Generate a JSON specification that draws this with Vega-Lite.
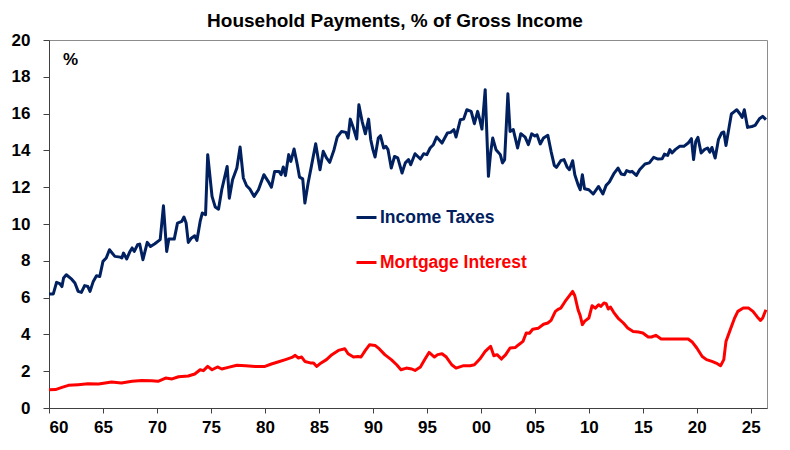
{
  "$schema": "https://vega.github.io/schema/vega-lite/v6.json",
  "description": "Household payments as a share of gross income: income taxes and mortgage interest.",
  "width": 718,
  "height": 368,
  "autosize": "none",
  "padding": {"left": 49, "top": 40, "right": 23, "bottom": 42},
  "background": "white",
  "title": {
    "text": "Household Payments, % of Gross Income",
    "font": "Liberation Sans",
    "fontSize": 19,
    "fontWeight": "bold",
    "color": "#000000",
    "anchor": "middle",
    "frame": "group",
    "dx": -13,
    "dy": 28,
    "offset": 9,
    "baseline": "bottom"
  },
  "config": {
    "view": {"stroke": "#8c8c8c", "strokeWidth": 1},
    "axis": {
      "grid": false,
      "labelFont": "Liberation Sans",
      "labelFontSize": 17,
      "labelFontWeight": "bold",
      "labelColor": "#000000",
      "domainColor": "#404040",
      "tickColor": "#404040",
      "titleFont": "Liberation Sans",
      "titleFontWeight": "bold",
      "titleColor": "#000000"
    }
  },
  "datasets": {
    "tax": [
      {"year": 1960.0, "pct": 6.2}, {"year": 1960.4, "pct": 6.2}, {"year": 1960.7, "pct": 6.83},
      {"year": 1961.0, "pct": 6.76}, {"year": 1961.2, "pct": 6.6}, {"year": 1961.35, "pct": 7.07},
      {"year": 1961.6, "pct": 7.24}, {"year": 1962.1, "pct": 7.0}, {"year": 1962.4, "pct": 6.79},
      {"year": 1962.7, "pct": 6.34}, {"year": 1963.0, "pct": 6.28}, {"year": 1963.3, "pct": 6.65},
      {"year": 1963.6, "pct": 6.6}, {"year": 1963.8, "pct": 6.34}, {"year": 1964.1, "pct": 6.88},
      {"year": 1964.4, "pct": 7.19}, {"year": 1964.7, "pct": 7.15}, {"year": 1965.0, "pct": 7.97},
      {"year": 1965.3, "pct": 8.15}, {"year": 1965.6, "pct": 8.6}, {"year": 1966.1, "pct": 8.24},
      {"year": 1966.6, "pct": 8.2}, {"year": 1966.75, "pct": 8.15}, {"year": 1966.9, "pct": 8.42},
      {"year": 1967.2, "pct": 8.1}, {"year": 1967.5, "pct": 8.51}, {"year": 1967.7, "pct": 8.7},
      {"year": 1967.9, "pct": 8.51}, {"year": 1968.2, "pct": 8.87}, {"year": 1968.4, "pct": 8.91},
      {"year": 1968.7, "pct": 8.06}, {"year": 1969.1, "pct": 9.0}, {"year": 1969.4, "pct": 8.78},
      {"year": 1969.8, "pct": 8.93}, {"year": 1970.3, "pct": 9.15}, {"year": 1970.6, "pct": 10.99},
      {"year": 1970.9, "pct": 8.51}, {"year": 1971.1, "pct": 9.18}, {"year": 1971.6, "pct": 9.18},
      {"year": 1971.9, "pct": 10.05}, {"year": 1972.3, "pct": 10.14}, {"year": 1972.5, "pct": 10.38},
      {"year": 1972.7, "pct": 10.05}, {"year": 1972.9, "pct": 9.0}, {"year": 1973.2, "pct": 9.24},
      {"year": 1973.5, "pct": 9.36}, {"year": 1973.7, "pct": 9.11}, {"year": 1974.0, "pct": 10.14},
      {"year": 1974.2, "pct": 10.6}, {"year": 1974.5, "pct": 10.5}, {"year": 1974.7, "pct": 13.77},
      {"year": 1975.1, "pct": 11.5}, {"year": 1975.4, "pct": 10.92}, {"year": 1975.7, "pct": 10.8},
      {"year": 1976.0, "pct": 11.86}, {"year": 1976.5, "pct": 13.13}, {"year": 1976.7, "pct": 11.4},
      {"year": 1977.0, "pct": 12.4}, {"year": 1977.4, "pct": 13.04}, {"year": 1977.7, "pct": 14.18},
      {"year": 1978.0, "pct": 12.5}, {"year": 1978.3, "pct": 12.08}, {"year": 1978.6, "pct": 11.9},
      {"year": 1979.0, "pct": 11.5}, {"year": 1979.4, "pct": 11.86}, {"year": 1979.9, "pct": 12.68},
      {"year": 1980.3, "pct": 12.32}, {"year": 1980.6, "pct": 12.0}, {"year": 1980.9, "pct": 12.86},
      {"year": 1981.3, "pct": 12.86}, {"year": 1981.5, "pct": 12.68}, {"year": 1981.7, "pct": 13.1},
      {"year": 1981.9, "pct": 12.63}, {"year": 1982.2, "pct": 13.77}, {"year": 1982.4, "pct": 13.4},
      {"year": 1982.7, "pct": 14.08}, {"year": 1983.0, "pct": 13.22}, {"year": 1983.2, "pct": 12.55},
      {"year": 1983.5, "pct": 12.45}, {"year": 1983.7, "pct": 11.14}, {"year": 1984.0, "pct": 12.23},
      {"year": 1984.3, "pct": 13.13}, {"year": 1984.7, "pct": 14.36}, {"year": 1985.1, "pct": 12.95},
      {"year": 1985.4, "pct": 13.95}, {"year": 1985.7, "pct": 13.59}, {"year": 1986.0, "pct": 13.35},
      {"year": 1986.4, "pct": 14.04}, {"year": 1986.7, "pct": 14.73}, {"year": 1987.1, "pct": 15.03},
      {"year": 1987.5, "pct": 14.98}, {"year": 1987.7, "pct": 14.67}, {"year": 1987.9, "pct": 15.7},
      {"year": 1988.2, "pct": 15.2}, {"year": 1988.5, "pct": 14.62}, {"year": 1988.7, "pct": 16.48},
      {"year": 1989.0, "pct": 15.58}, {"year": 1989.3, "pct": 14.9}, {"year": 1989.6, "pct": 15.7},
      {"year": 1989.8, "pct": 14.58}, {"year": 1990.0, "pct": 14.04}, {"year": 1990.2, "pct": 13.64},
      {"year": 1990.5, "pct": 14.67}, {"year": 1990.7, "pct": 14.8}, {"year": 1991.0, "pct": 14.13},
      {"year": 1991.2, "pct": 14.22}, {"year": 1991.4, "pct": 14.04}, {"year": 1991.7, "pct": 13.04},
      {"year": 1992.0, "pct": 13.67}, {"year": 1992.3, "pct": 13.59}, {"year": 1992.7, "pct": 12.77},
      {"year": 1993.0, "pct": 13.32}, {"year": 1993.3, "pct": 13.5}, {"year": 1993.5, "pct": 13.22},
      {"year": 1993.9, "pct": 13.82}, {"year": 1994.4, "pct": 13.53}, {"year": 1994.7, "pct": 13.82},
      {"year": 1995.0, "pct": 13.77}, {"year": 1995.3, "pct": 14.13}, {"year": 1995.6, "pct": 14.31},
      {"year": 1995.9, "pct": 14.73}, {"year": 1996.4, "pct": 14.4}, {"year": 1996.9, "pct": 14.95},
      {"year": 1997.2, "pct": 14.98}, {"year": 1997.5, "pct": 15.13}, {"year": 1997.7, "pct": 14.73},
      {"year": 1998.1, "pct": 15.67}, {"year": 1998.4, "pct": 15.7}, {"year": 1998.7, "pct": 16.21},
      {"year": 1999.1, "pct": 16.12}, {"year": 1999.4, "pct": 15.45}, {"year": 1999.7, "pct": 16.12},
      {"year": 1999.9, "pct": 15.67}, {"year": 2000.1, "pct": 15.16}, {"year": 2000.4, "pct": 17.3},
      {"year": 2000.7, "pct": 12.59}, {"year": 2000.9, "pct": 13.86}, {"year": 2001.1, "pct": 14.67},
      {"year": 2001.4, "pct": 14.04}, {"year": 2001.8, "pct": 13.77}, {"year": 2002.0, "pct": 13.32},
      {"year": 2002.2, "pct": 13.5}, {"year": 2002.5, "pct": 17.08}, {"year": 2002.7, "pct": 15.03},
      {"year": 2003.0, "pct": 15.13}, {"year": 2003.4, "pct": 14.13}, {"year": 2003.7, "pct": 14.91},
      {"year": 2004.1, "pct": 14.72}, {"year": 2004.4, "pct": 14.31}, {"year": 2004.7, "pct": 14.9},
      {"year": 2005.0, "pct": 14.78}, {"year": 2005.2, "pct": 14.85}, {"year": 2005.5, "pct": 14.35},
      {"year": 2005.8, "pct": 14.67}, {"year": 2006.2, "pct": 14.82}, {"year": 2006.5, "pct": 13.95},
      {"year": 2006.8, "pct": 13.19}, {"year": 2007.0, "pct": 13.08}, {"year": 2007.4, "pct": 13.44},
      {"year": 2007.7, "pct": 13.5}, {"year": 2008.0, "pct": 13.08}, {"year": 2008.2, "pct": 12.95},
      {"year": 2008.5, "pct": 13.44}, {"year": 2008.7, "pct": 12.68}, {"year": 2009.0, "pct": 12.14},
      {"year": 2009.2, "pct": 11.86}, {"year": 2009.4, "pct": 12.68}, {"year": 2009.6, "pct": 11.92},
      {"year": 2010.0, "pct": 11.86}, {"year": 2010.4, "pct": 11.63}, {"year": 2010.9, "pct": 12.04},
      {"year": 2011.3, "pct": 11.63}, {"year": 2011.6, "pct": 12.1}, {"year": 2011.9, "pct": 12.28},
      {"year": 2012.3, "pct": 12.72}, {"year": 2012.7, "pct": 13.04}, {"year": 2013.0, "pct": 12.72},
      {"year": 2013.3, "pct": 12.68}, {"year": 2013.5, "pct": 12.9}, {"year": 2013.8, "pct": 12.83},
      {"year": 2014.0, "pct": 12.86}, {"year": 2014.4, "pct": 12.64}, {"year": 2014.7, "pct": 12.95},
      {"year": 2015.2, "pct": 13.26}, {"year": 2015.6, "pct": 13.32}, {"year": 2016.0, "pct": 13.62},
      {"year": 2016.4, "pct": 13.53}, {"year": 2016.8, "pct": 13.55}, {"year": 2017.0, "pct": 13.8},
      {"year": 2017.3, "pct": 13.73}, {"year": 2017.5, "pct": 14.04}, {"year": 2017.7, "pct": 13.86},
      {"year": 2018.0, "pct": 14.04}, {"year": 2018.4, "pct": 14.22}, {"year": 2018.8, "pct": 14.22},
      {"year": 2019.2, "pct": 14.4}, {"year": 2019.5, "pct": 14.64}, {"year": 2019.7, "pct": 13.5},
      {"year": 2019.9, "pct": 14.49}, {"year": 2020.1, "pct": 14.71}, {"year": 2020.4, "pct": 13.86},
      {"year": 2020.7, "pct": 14.04}, {"year": 2021.0, "pct": 14.13}, {"year": 2021.2, "pct": 13.91},
      {"year": 2021.4, "pct": 14.16}, {"year": 2021.7, "pct": 13.59}, {"year": 2022.0, "pct": 14.58},
      {"year": 2022.3, "pct": 14.95}, {"year": 2022.5, "pct": 15.0}, {"year": 2022.7, "pct": 14.27},
      {"year": 2023.0, "pct": 15.3}, {"year": 2023.2, "pct": 15.98}, {"year": 2023.5, "pct": 16.12},
      {"year": 2023.7, "pct": 16.21}, {"year": 2024.0, "pct": 15.98}, {"year": 2024.2, "pct": 15.79},
      {"year": 2024.4, "pct": 16.21}, {"year": 2024.7, "pct": 15.25}, {"year": 2025.1, "pct": 15.3},
      {"year": 2025.4, "pct": 15.36}, {"year": 2025.8, "pct": 15.72}, {"year": 2026.1, "pct": 15.85},
      {"year": 2026.4, "pct": 15.67}
    ],
    "mortgage": [
      {"year": 1960.0, "pct": 0.99}, {"year": 1960.6, "pct": 1.0}, {"year": 1961.2, "pct": 1.12},
      {"year": 1961.8, "pct": 1.23}, {"year": 1962.7, "pct": 1.27}, {"year": 1963.6, "pct": 1.32},
      {"year": 1964.6, "pct": 1.3}, {"year": 1965.2, "pct": 1.36}, {"year": 1965.8, "pct": 1.41},
      {"year": 1966.7, "pct": 1.36}, {"year": 1967.7, "pct": 1.45}, {"year": 1968.6, "pct": 1.5},
      {"year": 1969.5, "pct": 1.48}, {"year": 1970.1, "pct": 1.45}, {"year": 1970.8, "pct": 1.63},
      {"year": 1971.4, "pct": 1.58}, {"year": 1972.0, "pct": 1.7}, {"year": 1972.9, "pct": 1.74},
      {"year": 1973.5, "pct": 1.85}, {"year": 1974.0, "pct": 2.08}, {"year": 1974.3, "pct": 2.03},
      {"year": 1974.7, "pct": 2.26}, {"year": 1975.1, "pct": 2.08}, {"year": 1975.6, "pct": 2.23},
      {"year": 1976.0, "pct": 2.12}, {"year": 1976.6, "pct": 2.21}, {"year": 1977.4, "pct": 2.32},
      {"year": 1978.2, "pct": 2.3}, {"year": 1979.1, "pct": 2.26}, {"year": 1980.0, "pct": 2.26},
      {"year": 1980.6, "pct": 2.39}, {"year": 1981.2, "pct": 2.5}, {"year": 1981.9, "pct": 2.63},
      {"year": 1982.5, "pct": 2.75}, {"year": 1982.8, "pct": 2.86}, {"year": 1983.1, "pct": 2.72},
      {"year": 1983.4, "pct": 2.77}, {"year": 1983.7, "pct": 2.53}, {"year": 1984.2, "pct": 2.45},
      {"year": 1984.5, "pct": 2.45}, {"year": 1984.8, "pct": 2.26}, {"year": 1985.2, "pct": 2.45},
      {"year": 1985.7, "pct": 2.63}, {"year": 1986.2, "pct": 2.9}, {"year": 1986.8, "pct": 3.13},
      {"year": 1987.4, "pct": 3.22}, {"year": 1987.7, "pct": 2.95}, {"year": 1988.2, "pct": 2.77},
      {"year": 1988.6, "pct": 2.8}, {"year": 1988.9, "pct": 2.77}, {"year": 1989.3, "pct": 3.13},
      {"year": 1989.7, "pct": 3.44}, {"year": 1990.2, "pct": 3.4}, {"year": 1990.6, "pct": 3.21},
      {"year": 1991.1, "pct": 2.9}, {"year": 1991.7, "pct": 2.63}, {"year": 1992.2, "pct": 2.35},
      {"year": 1992.6, "pct": 2.08}, {"year": 1993.1, "pct": 2.17}, {"year": 1993.6, "pct": 2.12},
      {"year": 1993.9, "pct": 2.04}, {"year": 1994.4, "pct": 2.23}, {"year": 1994.8, "pct": 2.63},
      {"year": 1995.2, "pct": 3.02}, {"year": 1995.7, "pct": 2.77}, {"year": 1996.0, "pct": 2.9},
      {"year": 1996.4, "pct": 2.95}, {"year": 1996.8, "pct": 2.77}, {"year": 1997.3, "pct": 2.35},
      {"year": 1997.7, "pct": 2.17}, {"year": 1998.4, "pct": 2.3}, {"year": 1999.0, "pct": 2.3},
      {"year": 1999.4, "pct": 2.35}, {"year": 1999.9, "pct": 2.66}, {"year": 2000.4, "pct": 3.08},
      {"year": 2000.9, "pct": 3.35}, {"year": 2001.2, "pct": 2.84}, {"year": 2001.5, "pct": 2.9},
      {"year": 2001.9, "pct": 2.66}, {"year": 2002.3, "pct": 2.9}, {"year": 2002.7, "pct": 3.26},
      {"year": 2003.2, "pct": 3.29}, {"year": 2003.5, "pct": 3.44}, {"year": 2003.9, "pct": 3.62},
      {"year": 2004.2, "pct": 4.08}, {"year": 2004.5, "pct": 4.06}, {"year": 2004.8, "pct": 4.28},
      {"year": 2005.3, "pct": 4.33}, {"year": 2005.8, "pct": 4.55}, {"year": 2006.2, "pct": 4.62},
      {"year": 2006.5, "pct": 4.76}, {"year": 2006.9, "pct": 5.25}, {"year": 2007.2, "pct": 5.38},
      {"year": 2007.4, "pct": 5.43}, {"year": 2007.8, "pct": 5.79}, {"year": 2008.1, "pct": 6.03},
      {"year": 2008.5, "pct": 6.34}, {"year": 2008.7, "pct": 6.1}, {"year": 2009.0, "pct": 5.34},
      {"year": 2009.2, "pct": 5.02}, {"year": 2009.4, "pct": 4.53}, {"year": 2009.6, "pct": 4.71},
      {"year": 2010.0, "pct": 4.89}, {"year": 2010.3, "pct": 5.56}, {"year": 2010.6, "pct": 5.43},
      {"year": 2010.9, "pct": 5.61}, {"year": 2011.1, "pct": 5.52}, {"year": 2011.4, "pct": 5.71},
      {"year": 2011.6, "pct": 5.67}, {"year": 2011.8, "pct": 5.38}, {"year": 2012.0, "pct": 5.49},
      {"year": 2012.3, "pct": 5.2}, {"year": 2012.7, "pct": 4.89}, {"year": 2013.2, "pct": 4.62},
      {"year": 2013.6, "pct": 4.35}, {"year": 2014.1, "pct": 4.16}, {"year": 2014.6, "pct": 4.13},
      {"year": 2015.0, "pct": 4.08}, {"year": 2015.5, "pct": 3.86}, {"year": 2015.8, "pct": 3.86},
      {"year": 2016.2, "pct": 3.95}, {"year": 2016.7, "pct": 3.75}, {"year": 2017.2, "pct": 3.75},
      {"year": 2017.8, "pct": 3.75}, {"year": 2018.4, "pct": 3.75}, {"year": 2019.2, "pct": 3.75},
      {"year": 2019.6, "pct": 3.57}, {"year": 2020.0, "pct": 3.26}, {"year": 2020.5, "pct": 2.8},
      {"year": 2020.9, "pct": 2.63}, {"year": 2021.4, "pct": 2.53}, {"year": 2021.9, "pct": 2.41},
      {"year": 2022.2, "pct": 2.3}, {"year": 2022.5, "pct": 2.63}, {"year": 2022.7, "pct": 3.62},
      {"year": 2023.1, "pct": 4.26}, {"year": 2023.5, "pct": 4.89}, {"year": 2023.8, "pct": 5.25},
      {"year": 2024.3, "pct": 5.43}, {"year": 2024.8, "pct": 5.43}, {"year": 2025.2, "pct": 5.25},
      {"year": 2025.6, "pct": 4.95}, {"year": 2025.9, "pct": 4.76}, {"year": 2026.1, "pct": 4.89},
      {"year": 2026.4, "pct": 5.34}
    ]
  },
  "encoding": {
    "x": {
      "field": "year",
      "type": "quantitative",
      "scale": {"domain": [1960, 2026.5], "nice": false, "zero": false},
      "axis": {
        "title": null,
        "values": [1960, 1965, 1970, 1975, 1980, 1985, 1990, 1995, 2000, 2005, 2010, 2015, 2020, 2025],
        "labelExpr": "slice(format(datum.value, 'd'), 2)",
        "tickSize": 5,
        "labelPadding": 6
      }
    },
    "y": {
      "field": "pct",
      "type": "quantitative",
      "scale": {"domain": [0, 20], "nice": false},
      "axis": {
        "values": [0, 2, 4, 6, 8, 10, 12, 14, 16, 18, 20],
        "tickSize": 6,
        "labelPadding": 13,
        "title": "%",
        "titleAngle": 0,
        "titleFontSize": 17,
        "titleAlign": "center",
        "titleBaseline": "middle",
        "titleX": 21,
        "titleY": 19
      }
    }
  },
  "layer": [
    {
      "data": {"name": "tax"},
      "mark": {"type": "line", "strokeWidth": 3, "strokeJoin": "round"},
      "encoding": {
        "color": {
          "datum": "Income Taxes",
          "type": "nominal",
          "scale": {"domain": ["Income Taxes", "Mortgage Interest"], "range": ["#002060", "#ff0000"]},
          "legend": {
            "title": null,
            "orient": "none",
            "legendX": 306,
            "legendY": 166,
            "symbolType": "stroke",
            "symbolSize": 400,
            "symbolStrokeWidth": 3,
            "labelFont": "Liberation Sans",
            "labelFontSize": 17.5,
            "labelFontWeight": "bold",
            "labelOffset": 2,
            "rowPadding": 25,
            "encode": {
              "labels": {
                "update": {
                  "fill": {"signal": "datum.value === 'Income Taxes' ? '#002060' : '#ff0000'"}
                }
              }
            }
          }
        }
      }
    },
    {
      "data": {"name": "mortgage"},
      "mark": {"type": "line", "strokeWidth": 3, "strokeJoin": "round"},
      "encoding": {
        "color": {"datum": "Mortgage Interest", "type": "nominal"}
      }
    }
  ]
}
